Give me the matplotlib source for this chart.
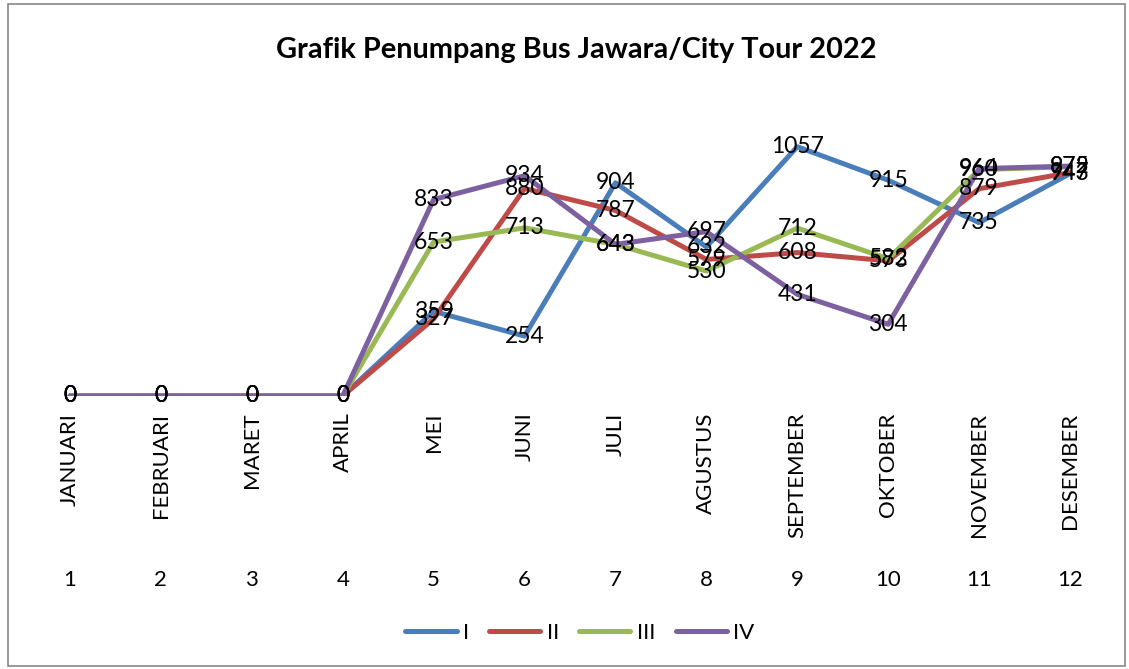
import numpy as np
import matplotlib.pyplot as plt
from matplotlib.patches import Rectangle

plt.rcParams['font.family'] = ['Lato', 'DejaVu Sans']

bulan = ['JANUARI', 'FEBRUARI', 'MARET', 'APRIL', 'MEI', 'JUNI', 'JULI',
         'AGUSTUS', 'SEPTEMBER', 'OKTOBER', 'NOVEMBER', 'DESEMBER']
nomor = np.arange(1, 13)

seri_I = [0, 0, 0, 0, 359, 254, 904, 632, 1057, 915, 735, 943]
seri_II = [0, 0, 0, 0, 327, 880, 787, 579, 608, 573, 879, 947]
seri_III = [0, 0, 0, 0, 653, 713, 643, 530, 712, 582, 960, 972]
seri_IV = [0, 0, 0, 0, 833, 934, 643, 697, 431, 304, 964, 975]

nama = ['I', 'II', 'III', 'IV']
warna = ['#4A7EBB', '#BE4B48', '#98B954', '#7D60A0']

W, H = 1129, 669
fig = plt.figure(figsize=(W / 100, H / 100), dpi=100)
fig.patches.append(Rectangle((8 / W, 3 / H), 1117 / W, 662 / H, transform=fig.transFigure,
                             fill=False, edgecolor='#888888', linewidth=1.2))

ax = fig.add_axes([24.5 / W, (H - 396) / H, 1091 / W, 283 / H])
ax.set_xlim(0.5, 12.5)
ax.set_ylim(0, 1200)

for data, c, n in zip([seri_I, seri_II, seri_III, seri_IV], warna, nama):
    ax.plot(nomor, data, color=c, lw=3.6, label=n, solid_capstyle='round', solid_joinstyle='round')
for data in [seri_I, seri_II, seri_III, seri_IV]:
    for x, v in zip(nomor, data):
        ax.text(x, v, str(v), ha='center', va='center', fontsize=16.5, color='black')

for s in ax.spines.values():
    s.set_visible(False)
ax.set_yticks([])
ax.set_xticks(nomor)
ax.set_xticklabels(bulan, rotation=90, fontsize=16, va='top')
ax.tick_params(axis='x', length=0, pad=12)
for x in nomor:
    ax.text(x, -0.65, str(x), transform=ax.get_xaxis_transform(), ha='center', va='center', fontsize=16)

fig.text(576 / W, 1 - 50 / H, 'Grafik Penumpang Bus Jawara/City Tour 2022', ha='center', va='center',
         fontsize=20.8, fontweight='bold')

fig.legend(loc='center', bbox_to_anchor=(580 / W, 1 - 633 / H), ncol=4, frameon=False, fontsize=16,
           handlelength=2.3, columnspacing=0.9, handletextpad=0.3)

fig.savefig('out.png', dpi=100)
